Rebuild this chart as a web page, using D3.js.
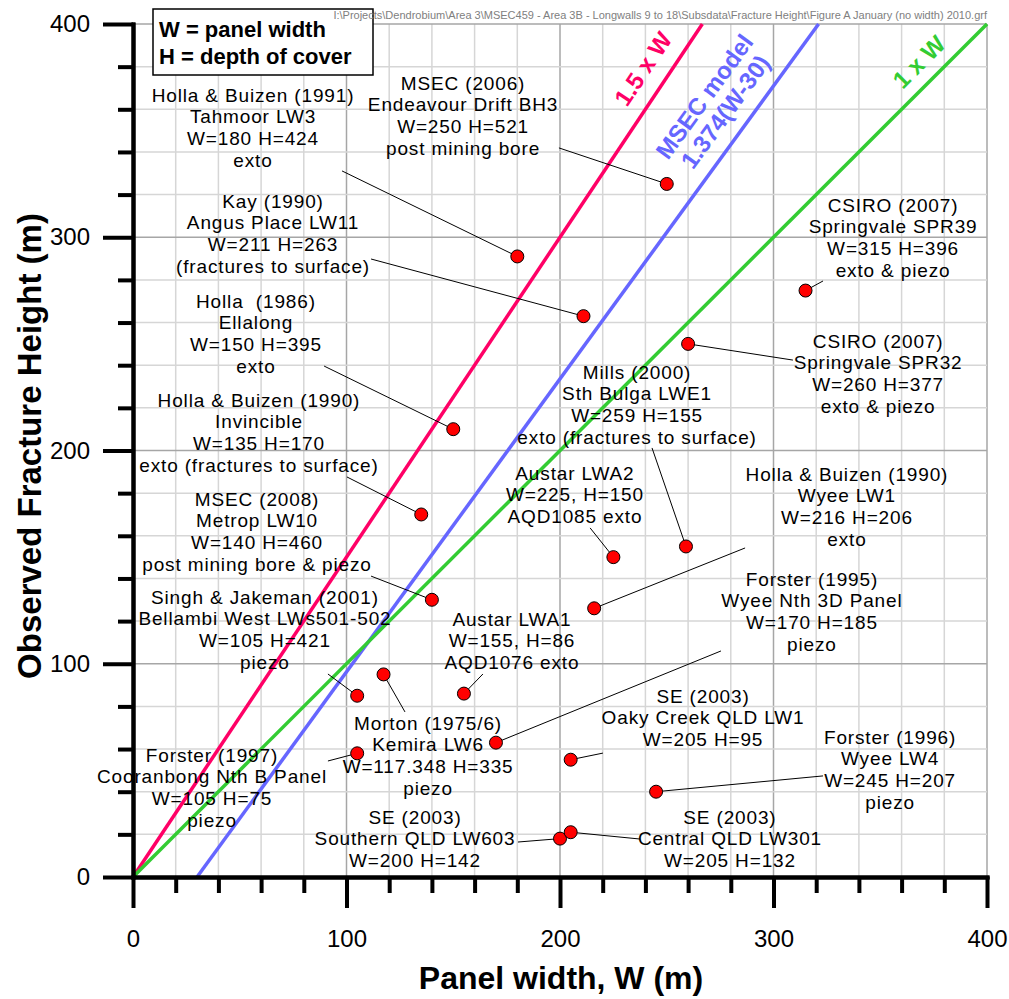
<!DOCTYPE html>
<html>
<head>
<meta charset="utf-8">
<script src="https://cdn.jsdelivr.net/npm/d3@7"></script>
<style>
  body { margin: 0; background: #fff; }
  svg { display: block; font-family: Arial, "Liberation Sans", sans-serif; }
  .axis path, .axis line { stroke: #000; stroke-width: 4; }
  .axis text { font-size: 24px; fill: #000; }
  .lbl { font-size: 19px; letter-spacing: 0.85px; white-space: pre; }
</style>
</head>
<body>
<svg width="1009" height="999"></svg>
<script>
// observations
var authors = ["MSEC (2006)", "Holla & Buizen (1991)", "Kay (1990)", "CSIRO (2007)", "CSIRO (2007)",
    "Holla  (1986)", "Holla & Buizen (1990)", "", "Mills (2000)", "MSEC (2008)",
    "Holla & Buizen (1990)", "Morton (1975/6)", "Singh & Jakeman (2001)", "", "Forster (1995)",
    "Forster (1997)", "SE (2003)", "Forster (1996)", "SE (2003)", "SE (2003)"];
var sites = ["Endeavour Drift BH3", "Tahmoor LW3", "Angus Place LW11", "Springvale SPR39", "Springvale SPR32",
    "Ellalong", "Invincible", "Austar LWA2", "Sth Bulga LWE1", "Metrop LW10",
    "Wyee LW1", "Kemira LW6", "Bellambi West LWs501-502", "Austar LWA1", "Wyee Nth 3D Panel",
    "Cooranbong Nth B Panel", "Oaky Creek QLD LW1", "Wyee LW4", "Southern QLD LW603", "Central QLD LW301"];
var geometry = ["W=250 H=521", "W=180 H=424", "W=211 H=263", "W=315 H=396", "W=260 H=377",
    "W=150 H=395", "W=135 H=170", "W=225, H=150", "W=259 H=155", "W=140 H=460",
    "W=216 H=206", "W=117.348 H=335", "W=105 H=421", "W=155, H=86", "W=170 H=185",
    "W=105 H=75", "W=205 H=95", "W=245 H=207", "W=200 H=142", "W=205 H=132"];
var methods = ["post mining bore", "exto", "(fractures to surface)", "exto & piezo", "exto & piezo",
    "exto", "exto (fractures to surface)", "AQD1085 exto", "exto (fractures to surface)", "post mining bore & piezo",
    "exto", "piezo", "piezo", "AQD1076 exto", "piezo",
    "piezo", "", "piezo", "", ""];
var panelWidth = [250, 180, 211, 315, 260, 150, 135, 225, 259, 140,
    216, 117.348, 105, 155, 170, 105, 205, 245, 200, 205];
var fractureHeight = [325, 291, 263, 275, 250, 210, 170, 150, 155, 130,
    126, 95, 85, 86, 63, 58, 55, 40, 18, 21];

// where each label sits (data units): centre of first line, and start of its leader
var labelX = [154.6, 56.2, 65.6, 356, 349, 57.6, 59.0, 207, 236.1, 58.1,
    334.4, 138.2, 61.8, 177.5, 318, 37.0, 267, 354.6, 132.1, 279.6];
var labelY = [372.3, 366.7, 317, 315.1, 251.3, 270.1, 223.7, 189.4, 236.8, 177.3,
    189, 72.2, 131.3, 121, 139.7, 57.2, 84.9, 65.7, 28.1, 28.1];
var leadX = [199.5, 97.9, 111.5, 323.2, 309.1, 89.5, 100.2, 214.1, 243.1, 111.5,
    286.7, 127.4, 91.3, 163.9, 275.4, 91.3, 220.1, 323.2, 180.3, 237.5];
var leadY = [341.9, 331.1, 289.8, 279.5, 242.4, 239.6, 187.6, 163.7, 201.2, 141.1,
    154.3, 77.4, 95.2, 95.2, 106, 54.4, 58.1, 47.4, 16.4, 17.8];

// reference lines: H = factor * (W - offset)
var trendNames = [["1.5 x W"], ["MSEC model", "1.374(W-30)"], ["1 x W"]];
var trendFactor = [1.5, 1.374, 1];
var trendOffset = [0, 30, 0];
var trendColor = ["#ff0066", "#6666ff", "#33cc33"];
var trendTextX = [238.9, 267.6, 368.1];
var trendTextY = [379.0, 366.0, 382.2];

var xTicks = [0, 100, 200, 300, 400];
var yTicks = [0, 100, 200, 300, 400];

var svg = d3.select("svg");
var x = d3.scaleLinear().domain([0, 400]).range([133, 987]);
var y = d3.scaleLinear().domain([0, 400]).range([877, 24]);
var minor = d3.range(0, 401, 20);

// grid
var grid = svg.append("g");
grid.selectAll(".gx").data(minor).enter().append("line")
    .attr("x1", function(d) { return x(d); }).attr("x2", function(d) { return x(d); })
    .attr("y1", y(0)).attr("y2", y(400))
    .attr("stroke", function(d) { return d % 100 ? "#d6d6d6" : "#a6a6a6"; })
    .attr("stroke-width", 1.5);
grid.selectAll(".gy").data(minor).enter().append("line")
    .attr("y1", function(d) { return y(d); }).attr("y2", function(d) { return y(d); })
    .attr("x1", x(0)).attr("x2", x(400))
    .attr("stroke", function(d) { return d % 100 ? "#d6d6d6" : "#a6a6a6"; })
    .attr("stroke-width", 1.5);

// reference lines
var line = d3.line().x(function(d) { return x(d[0]); }).y(function(d) { return y(d[1]); });
trendFactor.forEach(function(f, i) {
    var w1 = Math.min(400, trendOffset[i] + 400 / f);
    svg.append("path")
        .attr("d", line([[trendOffset[i], 0], [w1, f * (w1 - trendOffset[i])]]))
        .attr("stroke", trendColor[i]).attr("stroke-width", 3.5).attr("fill", "none");
    var ang = Math.atan(f * (y(0) - y(1)) / (x(1) - x(0))) * 180 / Math.PI;
    var t = svg.append("text")
        .attr("transform", "translate(" + x(trendTextX[i]) + "," + y(trendTextY[i]) + ") rotate(" + (-ang) + ")")
        .attr("text-anchor", "middle").attr("font-weight", "bold").attr("font-size", 24)
        .attr("fill", trendColor[i]);
    trendNames[i].forEach(function(s, k) {
        t.append("tspan").attr("x", 0).attr("y", k * 26).attr("dy", "0.35em").text(s);
    });
});

// leaders
svg.append("g").selectAll("line").data(panelWidth).enter().append("line")
    .attr("x1", function(d, i) { return x(leadX[i]); })
    .attr("y1", function(d, i) { return y(leadY[i]); })
    .attr("x2", function(d) { return x(d); })
    .attr("y2", function(d, i) { return y(fractureHeight[i]); })
    .attr("stroke", "#000").attr("stroke-width", 1);

// labels
svg.append("g").selectAll("text").data(panelWidth).enter().append("text")
    .attr("class", "lbl").attr("text-anchor", "middle")
    .each(function(d, i) {
        var lines = [authors[i], sites[i], geometry[i], methods[i]].filter(function(s) { return s; });
        var el = d3.select(this);
        lines.forEach(function(s, k) {
            el.append("tspan").attr("x", x(labelX[i])).attr("y", y(labelY[i]) + k * 21.7)
                .attr("dy", "0.35em").text(s);
        });
    });

// points
svg.append("g").selectAll("circle").data(panelWidth).enter().append("circle")
    .attr("cx", function(d) { return x(d); })
    .attr("cy", function(d, i) { return y(fractureHeight[i]); })
    .attr("r", 6.5).attr("fill", "#ff0000").attr("stroke", "#000").attr("stroke-width", 1);

// axes
svg.append("g").attr("class", "axis").attr("transform", "translate(0," + y(0) + ")")
    .call(d3.axisBottom(x).tickValues(minor.filter(function(d) { return d % 100; }))
        .tickSize(16).tickSizeOuter(0).tickFormat(""));
svg.append("g").attr("class", "axis").attr("transform", "translate(0," + y(0) + ")")
    .call(d3.axisBottom(x).tickValues(xTicks).tickSize(31).tickSizeOuter(0).tickPadding(22));
svg.append("g").attr("class", "axis").attr("transform", "translate(" + x(0) + ",0)")
    .call(d3.axisLeft(y).tickValues(minor.filter(function(d) { return d % 100; }))
        .tickSize(15).tickSizeOuter(0).tickFormat(""));
svg.append("g").attr("class", "axis").attr("transform", "translate(" + x(0) + ",0)")
    .call(d3.axisLeft(y).tickValues(yTicks).tickSize(30).tickSizeOuter(0).tickPadding(13));
svg.selectAll(".axis path").attr("stroke-linecap", "square");

// axis titles
svg.append("text").attr("x", 561).attr("y", 989).attr("text-anchor", "middle")
    .attr("font-weight", "bold").attr("font-size", 32).text("Panel width, W (m)");
svg.append("text").attr("transform", "translate(41,446) rotate(-90)").attr("text-anchor", "middle")
    .attr("font-weight", "bold").attr("font-size", 33).text("Observed Fracture Height (m)");

// legend box
svg.append("rect").attr("x", 153).attr("y", 9).attr("width", 220).attr("height", 66)
    .attr("fill", "#fff").attr("stroke", "#000").attr("stroke-width", 1.5);
svg.append("text").attr("x", 159).attr("y", 37).attr("font-weight", "bold").attr("font-size", 22)
    .text("W = panel width");
svg.append("text").attr("x", 159).attr("y", 64).attr("font-weight", "bold").attr("font-size", 22)
    .text("H = depth of cover");

// file path
svg.append("text").attr("x", 987).attr("y", 19).attr("text-anchor", "end")
    .attr("font-size", 11).attr("fill", "#808080")
    .text("I:\\Projects\\Dendrobium\\Area 3\\MSEC459 - Area 3B - Longwalls 9 to 18\\Subsdata\\Fracture Height\\Figure A January (no width) 2010.grf");
</script>
</body>
</html>
